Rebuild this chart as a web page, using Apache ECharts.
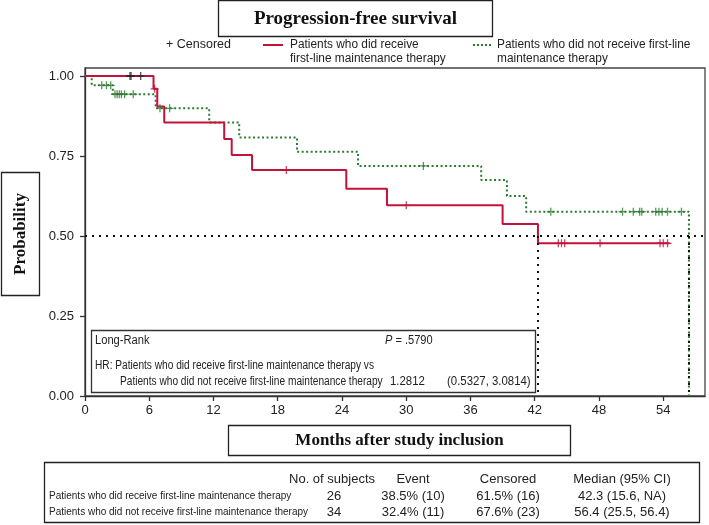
<!DOCTYPE html>
<html>
<head>
<meta charset="utf-8">
<script src="https://cdn.jsdelivr.net/npm/echarts@6/dist/echarts.min.js"></script>
<style>
html,body{margin:0;padding:0;background:#fff;}
#chart{width:709px;height:525px;}
</style>
</head>
<body>
<div id="chart"></div>
<script>
// ---- Data ----
const xTicks = [0, 6, 12, 18, 24, 30, 36, 42, 48, 54];
const yTicks = [0, 0.25, 0.5, 0.75, 1.0];

// Red: patients who did receive first-line maintenance therapy (event times, survival after event)
const redTimes = [0, 6.4, 6.75, 7.4, 13.0, 13.7, 15.6, 24.4, 28.2, 39.0, 42.3, 54.6];
const redSurv  = [1, 0.96, 0.905, 0.855, 0.803, 0.753, 0.706, 0.648, 0.596, 0.5375, 0.477, 0.477];
const redCensorT = [4.2, 4.3, 5.2, 6.5, 18.8, 30.0, 44.2, 44.5, 44.8, 48.1, 53.7, 54.0, 54.4];
const redCensorS = [1, 1, 1, 0.96, 0.706, 0.596, 0.477, 0.477, 0.477, 0.477, 0.477, 0.477, 0.477];

// Green: patients who did not receive first-line maintenance therapy
const greenTimes = [0, 0.63, 2.6, 6.6, 11.6, 14.4, 19.8, 25.5, 37.0, 39.4, 41.2, 56.4];
const greenSurv  = [1, 0.971, 0.943, 0.899, 0.855, 0.808, 0.763, 0.719, 0.675, 0.625, 0.576, 0];
const greenCensorT = [1.56, 2.0, 2.4, 2.8, 3.0, 3.2, 3.4, 3.7, 4.5, 7.0, 7.9, 31.6, 43.5, 50.2, 51.2, 51.8, 52.0, 53.3, 53.6, 53.9, 54.4, 55.7];
const greenCensorS = [0.971, 0.971, 0.971, 0.943, 0.943, 0.943, 0.943, 0.943, 0.943, 0.899, 0.899, 0.719, 0.576, 0.576, 0.576, 0.576, 0.576, 0.576, 0.576, 0.576, 0.576, 0.576];

const medianLevel = 0.5;
const medians = [42.3, 56.4];

// Texts
const titleText = 'Progression-free survival';
const legendRed = ['Patients who did receive', 'first-line maintenance therapy'];
const legendGreen = ['Patients who did not receive first-line', 'maintenance therapy'];
const yAxisTitle = 'Probability';
const xAxisTitle = 'Months after study inclusion';
const statLines = {
  test: 'Long-Rank', p: '.5790',
  hr1: 'HR: Patients who did receive first-line maintenance therapy vs',
  hr2: 'Patients who did not receive first-line maintenance therapy',
  hr: '1.2812', ci: '(0.5327, 3.0814)'
};
const tableHeader = ['No. of subjects', 'Event', 'Censored', 'Median (95% CI)'];
const tableRowLabels = ['Patients who did receive first-line maintenance therapy', 'Patients who did not receive first-line maintenance therapy'];
const tableSubjects = ['26', '34'];
const tableEvent = ['38.5% (10)', '32.4% (11)'];
const tableCensored = ['61.5% (16)', '67.6% (23)'];
const tableMedian = ['42.3 (15.6, NA)', '56.4 (25.5, 56.4)'];

// ---- Styling ----
const RED = '#c3133b';
const GREEN = '#2e7a32';
const SANS = 'Liberation Sans, Arial, sans-serif';
const SERIF = 'Liberation Serif, Times New Roman, serif';
const plusPath = 'path://M4.2,0h1.6v10h-1.6z M0,4.2h10v1.6h-10z';

const zip = (a, b) => a.map((v, i) => [v, b[i]]);

const chart = echarts.init(document.getElementById('chart'), null, {renderer: 'canvas'});

const graphics = [];
const txt = (x, y, text, font, extra) => Object.assign({type: 'text', x: x, y: y, style: Object.assign({text: text, font: font, fill: '#222', verticalAlign: 'middle'}, (extra && extra.style) || {})}, extra ? {z: extra.z || 0, scaleX: extra.scaleX || 1} : {});
// title box
graphics.push({type: 'rect', shape: {x: 218.5, y: 0.5, width: 274, height: 36}, style: {fill: '#fff', stroke: '#222', lineWidth: 1.3}});
graphics.push({type: 'text', x: 355.5, y: 19, style: {text: titleText, font: 'bold 19px ' + SERIF, fill: '#111', align: 'center', verticalAlign: 'middle'}});
// legend
graphics.push(txt(166, 45, '+ Censored', '12.5px ' + SANS));
graphics.push({type: 'line', shape: {x1: 263, y1: 45, x2: 283, y2: 45}, style: {stroke: RED, lineWidth: 2}});
graphics.push(txt(290, 45, legendRed[0], '12.5px ' + SANS, {scaleX: 0.95}));
graphics.push(txt(290, 59, legendRed[1], '12.5px ' + SANS, {scaleX: 0.95}));
graphics.push({type: 'line', shape: {x1: 473, y1: 45, x2: 493, y2: 45}, style: {stroke: GREEN, lineWidth: 2, lineDash: [2, 2]}});
graphics.push(txt(497, 45, legendGreen[0], '12.5px ' + SANS, {scaleX: 0.95}));
graphics.push(txt(497, 59, legendGreen[1], '12.5px ' + SANS, {scaleX: 0.95}));
// y title box
graphics.push({type: 'rect', shape: {x: 1.5, y: 172.5, width: 38, height: 123}, style: {fill: '#fff', stroke: '#222', lineWidth: 1.3}});
graphics.push({type: 'text', x: 21, y: 234, rotation: Math.PI / 2, style: {text: yAxisTitle, font: 'bold 17px ' + SERIF, fill: '#111', align: 'center', verticalAlign: 'middle'}});
// x title box
graphics.push({type: 'rect', shape: {x: 228.5, y: 425.5, width: 342, height: 30}, style: {fill: '#fff', stroke: '#222', lineWidth: 1.3}});
graphics.push({type: 'text', x: 399.5, y: 441, style: {text: xAxisTitle, font: 'bold 17px ' + SERIF, fill: '#111', align: 'center', verticalAlign: 'middle'}});
// stats box
const SF = '12px ' + SANS, SX = 0.845;
graphics.push({type: 'rect', shape: {x: 91.5, y: 330.5, width: 444, height: 62}, style: {fill: '#fff', stroke: '#333', lineWidth: 1.3}, z: 50});
graphics.push(txt(95, 341, statLines.test, SF, {z: 51, scaleX: 0.93}));
graphics.push(txt(385, 341, '{i|P} = ' + statLines.p, SF, {z: 51, scaleX: 0.92, style: {rich: {i: {fontStyle: 'italic', fontSize: 12, fontFamily: SANS}}}}));
graphics.push(txt(95, 366, statLines.hr1, SF, {z: 51, scaleX: SX}));
graphics.push(txt(120, 382, statLines.hr2, SF, {z: 51, scaleX: SX}));
graphics.push(txt(390, 382, statLines.hr, SF, {z: 51, scaleX: 0.95}));
graphics.push(txt(447, 382, statLines.ci, SF, {z: 51, scaleX: 0.95}));
// table
graphics.push({type: 'rect', shape: {x: 44.5, y: 462.5, width: 655, height: 60}, style: {fill: '#fff', stroke: '#222', lineWidth: 1.3}});
const colX = [375, 413, 508, 622];
const rowY = [479, 496, 512];
const TF = '13px ' + SANS;
graphics.push({type: 'text', x: colX[0], y: rowY[0], style: {text: tableHeader[0], font: TF, fill: '#222', align: 'right', verticalAlign: 'middle'}});
for (let c = 1; c < 4; c++) {
  graphics.push({type: 'text', x: colX[c], y: rowY[0], style: {text: tableHeader[c], font: TF, fill: '#222', align: 'center', verticalAlign: 'middle'}});
}
for (let r = 0; r < 2; r++) {
  const y = rowY[r + 1];
  graphics.push({type: 'text', x: 49, y: y, style: {text: tableRowLabels[r], font: '10px ' + SANS, fill: '#222', verticalAlign: 'middle'}});
  graphics.push({type: 'text', x: 334, y: y, style: {text: tableSubjects[r], font: TF, fill: '#222', align: 'center', verticalAlign: 'middle'}});
  graphics.push({type: 'text', x: colX[1], y: y, style: {text: tableEvent[r], font: TF, fill: '#222', align: 'center', verticalAlign: 'middle'}});
  graphics.push({type: 'text', x: colX[2], y: y, style: {text: tableCensored[r], font: TF, fill: '#222', align: 'center', verticalAlign: 'middle'}});
  graphics.push({type: 'text', x: colX[3], y: y, style: {text: tableMedian[r], font: TF, fill: '#222', align: 'center', verticalAlign: 'middle'}});
}

const option = {
  animation: false,
  backgroundColor: '#fff',
  grid: {left: 85, top: 68, right: 4, bottom: 129, show: true, borderColor: '#444', borderWidth: 1.3, containLabel: false},
  xAxis: {
    type: 'value', min: 0, max: 57.9,
    splitLine: {show: false},
    axisLine: {show: true, onZero: false, lineStyle: {color: '#333', width: 1.3}},
    axisTick: {show: true, length: 5, lineStyle: {color: '#333', width: 1.3}, customValues: xTicks},
    axisLabel: {customValues: xTicks, color: '#222', fontSize: 13, fontFamily: SANS, margin: 8}
  },
  yAxis: {
    type: 'value', min: 0, max: 1.025,
    splitLine: {show: false},
    axisLine: {show: true, onZero: false, lineStyle: {color: '#333', width: 1.3}},
    axisTick: {show: true, length: 5, lineStyle: {color: '#333', width: 1.3}, customValues: yTicks},
    axisLabel: {customValues: yTicks, color: '#222', fontSize: 13, fontFamily: SANS, margin: 11, formatter: v => v.toFixed(2)}
  },
  graphic: graphics,
  series: [
    {
      type: 'line', name: 'green', step: 'end', showSymbol: false, z: 3,
      data: zip(greenTimes, greenSurv),
      lineStyle: {color: GREEN, width: 2, type: [2, 2.5]},
      markLine: {
        silent: true, symbol: 'none', label: {show: false},
        lineStyle: {color: '#111', width: 2, type: [2, 5]},
        data: [
          {yAxis: medianLevel},
          ...medians.map(m => [{coord: [m, medianLevel]}, {coord: [m, 0]}])
        ]
      }
    },
    {
      type: 'line', name: 'red', step: 'end', showSymbol: false, z: 4,
      data: zip(redTimes, redSurv),
      lineStyle: {color: RED, width: 2}
    },
    {
      type: 'scatter', name: 'greenCensor', symbol: plusPath, symbolSize: 8, z: 5,
      data: zip(greenCensorT, greenCensorS),
      itemStyle: {color: GREEN}
    },
    {
      type: 'scatter', name: 'redCensor', symbol: plusPath, symbolSize: 8, z: 6,
      data: zip(redCensorT, redCensorS),
      itemStyle: {color: p => (p.value[1] >= 1 ? '#222' : RED)}
    }
  ]
};
chart.setOption(option);
</script>
</body>
</html>
